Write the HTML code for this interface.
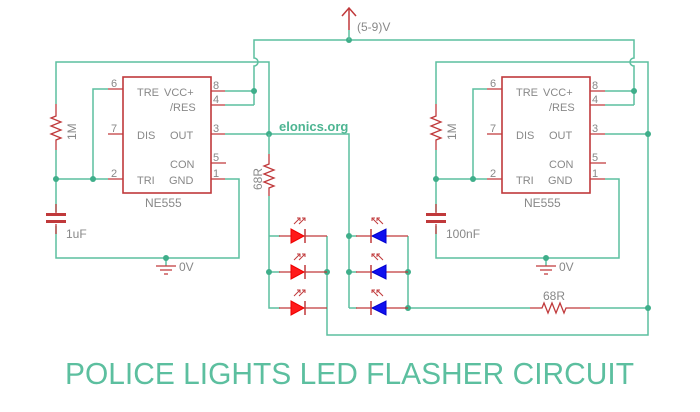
<!DOCTYPE html>
<html><head><style>
html,body{margin:0;padding:0;background:#fff;}
svg{display:block;}
text{font-family:"Liberation Sans",sans-serif;}
</style></head><body>
<svg width="700" height="412" viewBox="0 0 700 412" xmlns="http://www.w3.org/2000/svg">
<defs>
<g id="rled">
  <line x1="-12" y1="0" x2="36" y2="0" stroke="#c0393b" stroke-width="1.3"/>
  <polygon points="0,-7 0,7 13,0" fill="#ff1a1a" stroke="#e00" stroke-width="1"/>
  <line x1="14" y1="-7" x2="14" y2="7" stroke="#c0393b" stroke-width="1.5"/>
  <g stroke="#c0393b" stroke-width="1" fill="none">
    <line x1="3" y1="-12" x2="9" y2="-18"/><polyline points="6,-18 9,-18 9,-15"/>
    <line x1="8" y1="-12" x2="14" y2="-18"/><polyline points="11,-18 14,-18 14,-15"/>
  </g>
</g>
<g id="bled">
  <line x1="-14" y1="0" x2="38" y2="0" stroke="#c0393b" stroke-width="1.3"/>
  <polygon points="16,-7 16,7 2,0" fill="#1010ee" stroke="#00c" stroke-width="1"/>
  <line x1="1" y1="-7" x2="1" y2="7" stroke="#c0393b" stroke-width="1.5"/>
  <g stroke="#c0393b" stroke-width="1" fill="none">
    <line x1="2" y1="-18" x2="8" y2="-12"/><polyline points="2,-15 2,-18 5,-18"/>
    <line x1="7" y1="-18" x2="13" y2="-12"/><polyline points="7,-15 7,-18 10,-18"/>
  </g>
</g>
</defs>

<g stroke="#5cbf9f" stroke-width="1.5" fill="none">
  <path d="M254,105 V66 a4,4 0 0 0 0,-8 V40 H634 V58 a4,4 0 0 0 0,8 V105"/>
  <path d="M56,104 V62 H269 V134"/>
  <path d="M436,104 V62 H648 V335 H327 V236"/>
  <path d="M225,91 H254 M225,105 H254"/>
  <path d="M225,134 H349 V308 M349,236 H357 M349,272 H357 M349,308 H357"/>
  <path d="M108,89 H93 V179 M108,179 H56 V212"/>
  <path d="M56,150 V179"/>
  <path d="M225,179 H239 V258 H56 V226"/>
  <path d="M166,258 V266"/>
  <path d="M605,91 H634 M605,105 H634"/>
  <path d="M605,134 H648"/>
  <path d="M487,89 H473 V179 M487,179 H436 V212 M436,150 V179"/>
  <path d="M605,179 H619 V258 H436 V226"/>
  <path d="M546,258 V266"/>
  <path d="M269,196 V308 H280 M269,236 H280 M269,272 H280"/>
  <path d="M408,236 V308 H530"/>
  <path d="M590,308 H648"/>
</g>

<g fill="#3fae8a">
  <circle cx="349" cy="40" r="3"/><circle cx="254" cy="91" r="3"/><circle cx="269" cy="134" r="3"/>
  <circle cx="93" cy="179" r="3"/><circle cx="56" cy="179" r="3"/><circle cx="166" cy="258" r="3"/>
  <circle cx="634" cy="91" r="3"/><circle cx="648" cy="134" r="3"/><circle cx="473" cy="179" r="3"/>
  <circle cx="436" cy="179" r="3"/><circle cx="546" cy="258" r="3"/>
  <circle cx="269" cy="272" r="3"/><circle cx="327" cy="272" r="3"/>
  <circle cx="349" cy="236" r="3"/><circle cx="349" cy="272" r="3"/>
  <circle cx="408" cy="272" r="3"/><circle cx="408" cy="308" r="3"/><circle cx="648" cy="308" r="3"/>
</g>

<g stroke="#c0393b" stroke-width="1.5" fill="none">
  <line x1="349" y1="8" x2="349" y2="30"/><polyline points="342,16 349,8 356,16"/>
</g>
<line x1="349" y1="30" x2="349" y2="40" stroke="#5cbf9f" stroke-width="1.5"/>
<text x="357" y="31" font-size="12" fill="#888">(5-9)V</text>

<g stroke="#c0393b" stroke-width="1.3" fill="none">
  <rect x="123" y="77" width="88" height="116" stroke-width="1.6"/>
  <path d="M108,89 H123 M108,134 H123 M108,179 H123 M211,91 H225 M211,105 H225 M211,134 H225 M211,163 H226 M211,179 H225"/>
  <rect x="502" y="77" width="88" height="116" stroke-width="1.6"/>
  <path d="M487,89 H502 M487,134 H502 M487,179 H502 M590,91 H605 M590,105 H605 M590,134 H605 M590,163 H606 M590,179 H605"/>
  <path d="M56,104 V116 l-5,2 l10,4 l-10,4 l10,4 l-10,4 l10,4 l-5,2 V150"/>
  <path d="M436,104 V116 l-5,2 l10,4 l-10,4 l10,4 l-10,4 l10,4 l-5,2 V150"/>
  <path d="M269,154 V164 l-5,2 l10,4 l-10,4 l10,4 l-10,4 l10,4 l-5,2 V196"/>
  <path d="M530,308 H542 l2,-5 l4,10 l4,-10 l4,10 l4,-10 l4,10 l2,-5 H590"/>
  <path d="M56,204 V214 M56,224 V234 M436,204 V214 M436,224 V234"/>
  <path d="M156,266 H176 M160,270 H172 M164,274 H168"/>
  <path d="M536,266 H556 M540,270 H552 M544,274 H548"/>
</g>
<rect x="46" y="213" width="20" height="3" fill="#c0393b"/><rect x="46" y="220" width="20" height="3" fill="#c0393b"/>
<rect x="426" y="213" width="20" height="3" fill="#c0393b"/><rect x="426" y="220" width="20" height="3" fill="#c0393b"/>
<line x1="269" y1="134" x2="269" y2="154" stroke="#5cbf9f" stroke-width="1.5"/>

<g font-size="11" fill="#888">
  <text x="111" y="87">6</text><text x="111" y="132">7</text><text x="111" y="177">2</text>
  <text x="213" y="89">8</text><text x="213" y="103">4</text><text x="213" y="132">3</text><text x="213" y="161">5</text><text x="213" y="177">1</text>
  <text x="137" y="96">TRE</text><text x="164" y="96">VCC+</text><text x="170" y="111">/RES</text>
  <text x="137" y="139">DIS</text><text x="170" y="139">OUT</text>
  <text x="170" y="168">CON</text><text x="137" y="184">TRI</text><text x="169" y="184">GND</text>
  <text x="145" y="207" font-size="12">NE555</text>

  <text x="490" y="87">6</text><text x="490" y="132">7</text><text x="490" y="177">2</text>
  <text x="592" y="89">8</text><text x="592" y="103">4</text><text x="592" y="132">3</text><text x="592" y="161">5</text><text x="592" y="177">1</text>
  <text x="516" y="96">TRE</text><text x="543" y="96">VCC+</text><text x="549" y="111">/RES</text>
  <text x="516" y="139">DIS</text><text x="549" y="139">OUT</text>
  <text x="549" y="168">CON</text><text x="516" y="184">TRI</text><text x="548" y="184">GND</text>
  <text x="524" y="207" font-size="12">NE555</text>
</g>
<g font-size="12" fill="#888">
  <text transform="translate(76,140) rotate(-90)">1M</text>
  <text transform="translate(456,140) rotate(-90)">1M</text>
  <text transform="translate(262,190) rotate(-90)">68R</text>
  <text x="543" y="300">68R</text>
  <text x="66" y="238">1uF</text>
  <text x="446" y="238">100nF</text>
  <text x="179" y="271">0V</text>
  <text x="559" y="271">0V</text>
</g>
<text x="279" y="131" font-size="13" font-weight="bold" fill="#4db592">elonics.org</text>

<use href="#rled" x="291" y="236"/><use href="#rled" x="291" y="272"/><use href="#rled" x="291" y="308"/>
<use href="#bled" x="370" y="236"/><use href="#bled" x="370" y="272"/><use href="#bled" x="370" y="308"/>

<text x="65" y="384" font-size="31" fill="#5cbf9f" textLength="569" lengthAdjust="spacingAndGlyphs">POLICE LIGHTS LED FLASHER CIRCUIT</text>
</svg>
</body></html>
